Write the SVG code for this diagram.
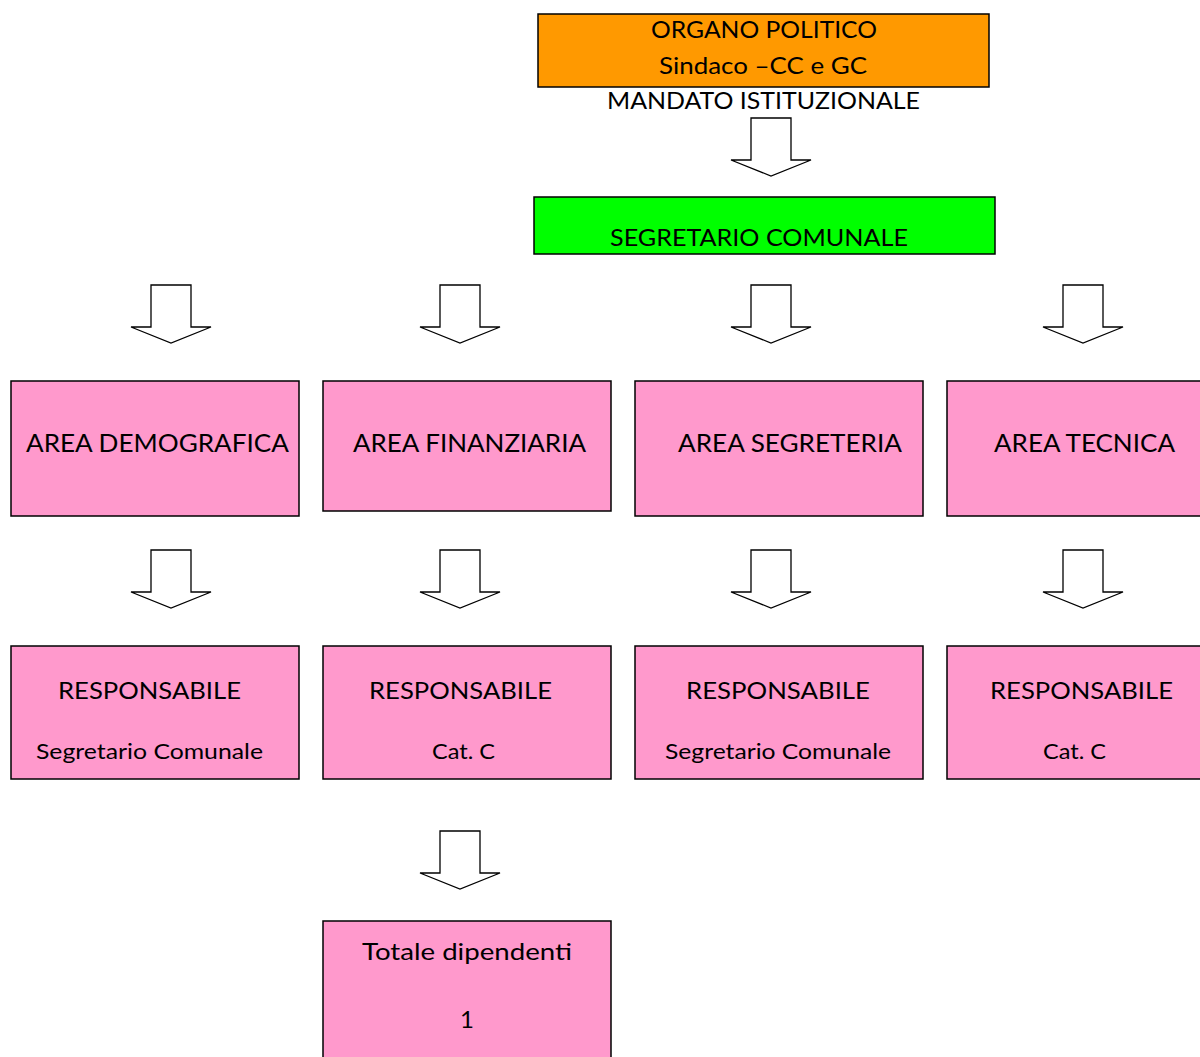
<svg xmlns="http://www.w3.org/2000/svg" width="1200" height="1057" viewBox="0 0 1200 1057">
<defs>
<style>
.box{stroke:#000;stroke-width:1.5}
.pink{fill:#FF99CC}
.arrow{fill:#fff;stroke:#000;stroke-width:1.3;stroke-linejoin:miter}
text{font-family:Lato,"Liberation Sans",sans-serif;fill:#000;text-anchor:middle}
.t24{font-size:24px}
.t25{font-size:25px}
.t20{font-size:21px}
</style>
<path id="arr" d="M-20,0 H20 V42 H40 L0,58 L-40,42 H-20 Z"/>
</defs>
<rect width="1200" height="1057" fill="#fff"/>
<g id="connectors">
<use href="#arr" class="arrow" x="771" y="118"/>
<use href="#arr" class="arrow" x="171" y="285"/>
<use href="#arr" class="arrow" x="460" y="285"/>
<use href="#arr" class="arrow" x="771" y="285"/>
<use href="#arr" class="arrow" x="1083" y="285"/>
<use href="#arr" class="arrow" x="171" y="550"/>
<use href="#arr" class="arrow" x="460" y="550"/>
<use href="#arr" class="arrow" x="771" y="550"/>
<use href="#arr" class="arrow" x="1083" y="550"/>
<use href="#arr" class="arrow" x="460" y="831"/>
</g>
<g id="organo">
<rect class="box" x="538" y="14" width="451" height="73" fill="#FF9900"/>
<text class="t24" x="764" y="38" textLength="226" lengthAdjust="spacingAndGlyphs">ORGANO POLITICO</text>
<text class="t24" x="763" y="74" textLength="208" lengthAdjust="spacingAndGlyphs">Sindaco –CC e GC</text>
</g>
<g id="mandato">
<text class="t24" x="763.5" y="109" textLength="313" lengthAdjust="spacingAndGlyphs">MANDATO ISTITUZIONALE</text>
</g>
<g id="segretario">
<rect class="box" x="534" y="197" width="461" height="57" fill="#00FF00"/>
<text class="t24" x="759" y="246" textLength="298" lengthAdjust="spacingAndGlyphs">SEGRETARIO COMUNALE</text>
</g>
<g id="area-demografica">
<rect class="box pink" x="11" y="381" width="288" height="135"/>
<text class="t25" x="157.5" y="452" textLength="263" lengthAdjust="spacingAndGlyphs">AREA DEMOGRAFICA</text>
</g>
<g id="area-finanziaria">
<rect class="box pink" x="323" y="381" width="288" height="130"/>
<text class="t25" x="469.5" y="452" textLength="233" lengthAdjust="spacingAndGlyphs">AREA FINANZIARIA</text>
</g>
<g id="area-segreteria">
<rect class="box pink" x="635" y="381" width="288" height="135"/>
<text class="t25" x="790" y="452" textLength="224" lengthAdjust="spacingAndGlyphs">AREA SEGRETERIA</text>
</g>
<g id="area-tecnica">
<rect class="box pink" x="947" y="381" width="288" height="135"/>
<text class="t25" x="1084.5" y="452" textLength="181" lengthAdjust="spacingAndGlyphs">AREA TECNICA</text>
</g>
<g id="resp-demografica">
<rect class="box pink" x="11" y="646" width="288" height="133"/>
<text class="t24" x="149.5" y="699" textLength="183" lengthAdjust="spacingAndGlyphs">RESPONSABILE</text>
<text class="t20" x="149.5" y="759" textLength="227" lengthAdjust="spacingAndGlyphs">Segretario Comunale</text>
</g>
<g id="resp-finanziaria">
<rect class="box pink" x="323" y="646" width="288" height="133"/>
<text class="t24" x="460.5" y="699" textLength="183" lengthAdjust="spacingAndGlyphs">RESPONSABILE</text>
<text class="t20" x="463.5" y="759" textLength="63" lengthAdjust="spacingAndGlyphs">Cat. C</text>
</g>
<g id="resp-segreteria">
<rect class="box pink" x="635" y="646" width="288" height="133"/>
<text class="t24" x="778" y="699" textLength="184" lengthAdjust="spacingAndGlyphs">RESPONSABILE</text>
<text class="t20" x="778" y="759" textLength="226" lengthAdjust="spacingAndGlyphs">Segretario Comunale</text>
</g>
<g id="resp-tecnica">
<rect class="box pink" x="947" y="646" width="288" height="133"/>
<text class="t24" x="1081.5" y="699" textLength="183" lengthAdjust="spacingAndGlyphs">RESPONSABILE</text>
<text class="t20" x="1074.5" y="759" textLength="63" lengthAdjust="spacingAndGlyphs">Cat. C</text>
</g>
<g id="totale">
<rect class="box pink" x="323" y="921" width="288" height="150"/>
<text class="t24" x="467" y="960" textLength="210" lengthAdjust="spacingAndGlyphs">Totale dipendenti</text>
<text class="t24" x="467" y="1028">1</text>
</g>
</svg>
